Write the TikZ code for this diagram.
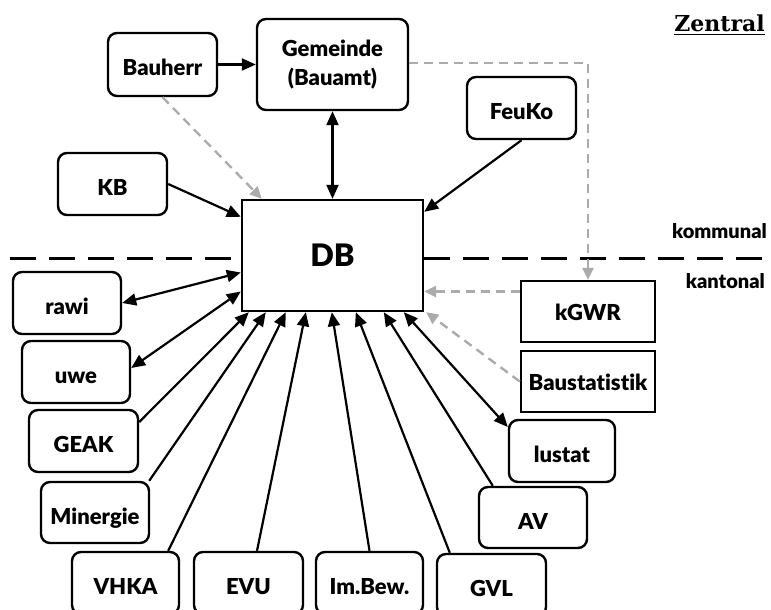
\documentclass[tikz,border=0pt]{standalone}
\usepackage{fontspec}
\setmainfont{Lato}[Ligatures={NoCommon},BoldFont={Lato Black}]
\newfontfamily\titlefont{DejaVu Serif}
\usetikzlibrary{arrows.meta}
\definecolor{flowgray}{HTML}{ABABAB}
\begin{document}
\begin{tikzpicture}[x=1pt,y=-1pt,
  frame/.style={draw=black,line width=2.4pt,rounded corners=9pt,fill=white,
    inner sep=0pt,align=center,font=\fontsize{22}{29}\selectfont\bfseries},
  box/.style={frame,text height=23pt,text depth=0pt},
  sqbox/.style={frame,rounded corners=0pt,text height=17pt,text depth=0pt},
  link/.style={line width=2.2pt,-{Triangle[length=14pt,width=12pt]}},
  both/.style={line width=2.2pt,{Triangle[length=14pt,width=12pt]}-{Triangle[length=14pt,width=12pt]}},
  feed/.style={line width=2.4pt,draw=flowgray,dash pattern=on 9pt off 6pt,
    -{Triangle[length=12pt,width=11pt]}},
  level/.style={anchor=base east,inner sep=0pt,font=\fontsize{20}{24}\selectfont\bfseries},
]
\useasboundingbox (0,0) rectangle (771,610);
\clip (0,0) rectangle (771,610);

% central database and municipal actors
\node[frame,minimum width=151pt,minimum height=91pt] (gemeinde) at (332.5,64.5) {Gemeinde\\(Bauamt)};
\node[box,minimum width=109pt,minimum height=63pt] (bauherr) at (162.5,64.5) {Bauherr};
\node[box,minimum width=109pt,minimum height=62pt] (kb) at (112.5,184) {KB};
\node[box,minimum width=109pt,minimum height=62pt] (feuko) at (521.5,108) {FeuKo};
\node[frame,rounded corners=0pt,minimum width=181pt,minimum height=111pt,
  font=\fontsize{31}{34}\selectfont\bfseries] (db) at (332.5,255.5) {DB};

% cantonal registers
\node[sqbox,minimum width=134pt,minimum height=61pt] (kgwr) at (588,311.5) {kGWR};
\node[sqbox,minimum width=134pt,minimum height=61pt] (baustat) at (588,381.5) {Baustatistik};

% external systems
\node[box,minimum width=108pt,minimum height=62pt] (rawi) at (67,303) {rawi};
\node[box,minimum width=108pt,minimum height=62pt] (uwe) at (76,372) {uwe};
\node[box,minimum width=109pt,minimum height=62pt] (geak) at (83.5,441) {GEAK};
\node[box,minimum width=108pt,minimum height=61pt] (minergie) at (95,512.5) {Minergie};
\node[box,minimum width=107pt,minimum height=62pt] (vhka) at (125.5,583) {VHKA};
\node[box,minimum width=109pt,minimum height=62pt] (evu) at (248.5,583) {EVU};
\node[box,minimum width=107pt,minimum height=62pt] (imbew) at (369.5,583) {Im.Bew.};
\node[box,minimum width=109pt,minimum height=62pt] (gvl) at (491.5,585) {GVL};
\node[box,minimum width=108pt,minimum height=61pt] (av) at (533,517.5) {AV};
\node[box,minimum width=106pt,minimum height=62pt] (lustat) at (562,451) {lustat};

% boundary between municipal and cantonal level
\coordinate (sepL) at (10,258);
\coordinate (sepR) at (771,258);
\draw[line width=3pt,dash pattern=on 26pt off 13pt] (sepL) -- (sepL -| db.west);
\draw[line width=3pt,dash pattern=on 26pt off 13pt] (sepR -| db.east) -- (sepR);
\node[level] (kommunal) at (767,238) {kommunal};
\node[level] (kantonal) at (765,288) {kantonal};
\node[anchor=base east,inner sep=0pt,font=\fontsize{22}{26}\selectfont\titlefont\bfseries] (zentral) at (765,32)
  {\underline{Zentral}};

% municipal flows
\draw[link] (bauherr.east) -- (gemeinde.west);
\draw[both] (gemeinde.south) -- (db.north);
\draw[link] (kb.east) -- ([yshift=-18pt]db.north west);
\draw[link] (feuko.south) -- ([yshift=-13pt]db.north east);
\draw[feed] (bauherr.south) -- ([xshift=21pt]db.north west);
\draw[feed] ([yshift=1.5pt]gemeinde.east) -| (kgwr.north);

% cantonal flows
\draw[feed] ([yshift=20pt]kgwr.west) -- ([yshift=20pt]kgwr.west -| db.east);
\draw[feed] (baustat.west) -- ([xshift=2pt]db.south east);
\draw[both] (rawi.east) -- ([yshift=-17pt]db.west);
\draw[both] ([yshift=4pt]uwe.east) -- ([yshift=-36pt]db.west);
\draw[link] ([yshift=19pt]geak.east) -- ([xshift=8pt]db.south west);
\draw[link] ([xshift=-1pt]minergie.north east) -- ([xshift=25pt]db.south west);
\draw[link] ([xshift=-12pt]vhka.north east) -- ([xshift=45pt]db.south west);
\draw[link] ([xshift=8.5pt]evu.north) -- ([xshift=65pt]db.south west);
\draw[link] (imbew.north) -- ([xshift=91pt]db.south west);
\draw[link] ([xshift=14pt]gvl.north west) -- ([xshift=115pt]db.south west);
\draw[link] ([xshift=15pt]av.north west) -- ([xshift=143pt]db.south west);
\draw[both] ([yshift=24pt]lustat.west) -- ([xshift=163pt]db.south west);
\end{tikzpicture}
\end{document}
